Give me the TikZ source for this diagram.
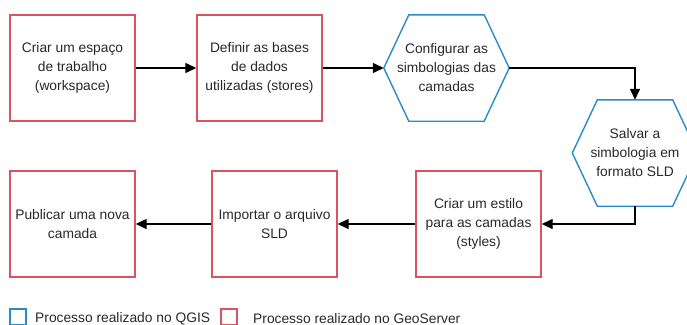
\documentclass[tikz,border=0pt]{standalone}
\usepackage{fontspec}
\setmainfont{Liberation Sans}
\usetikzlibrary{arrows.meta}
\definecolor{gsred}{RGB}{217,83,97}
\definecolor{qblue}{RGB}{41,140,201}
\definecolor{txt}{RGB}{40,40,40}
\begin{document}
\begin{tikzpicture}[x=1pt,y=-1pt,
  lbl/.style={font=\fontsize{13.8}{19}\selectfont, text=txt, align=center},
  gsbox/.style={lbl, draw=gsred, line width=1.4pt, minimum width=125pt, minimum height=106pt, inner sep=0pt},
  hexlbl/.style={lbl, minimum width=125pt, minimum height=106pt, inner sep=0pt},
  hexline/.style={draw=qblue, line width=1.4pt, line join=miter},
  conn/.style={line width=1.4pt, -{Triangle[length=11pt,width=10pt]}},
  legsq/.style={line width=1.4pt, minimum width=16pt, minimum height=16pt, inner sep=0pt}
]
\useasboundingbox (0,0) rectangle (687,324);
\node[gsbox] (b1) at (72.5,68) {Criar um espaço\\de trabalho\\(workspace)};
\node[gsbox] (b2) at (259.5,68) {Definir as bases\\de dados\\utilizadas (stores)};
\node[hexlbl] (h1) at (446.5,68) {Configurar as\\simbologias das\\camadas};
\node[hexlbl] (h2) at (635,153) {Salvar a\\simbologia em\\formato SLD};
\node[gsbox] (bc) at (478.5,224) {Criar um estilo\\para as camadas\\(styles)};
\node[gsbox] (bb) at (274.5,224) {Importar o arquivo\\SLD};
\node[gsbox] (ba) at (72.5,224) {Publicar uma nova\\camada};
\foreach \h in {h1,h2}{
  \draw[hexline] (\h.west) -- ([xshift=25pt]\h.north west) -- ([xshift=-25pt]\h.north east)
    -- (\h.east) -- ([xshift=-25pt]\h.south east) -- ([xshift=25pt]\h.south west) -- cycle;
}
\draw[conn] (b1) -- (b2);
\draw[conn] (b2.east) -- (h1.west);
\draw[conn] (h1.east) -| (h2.north);
\draw[conn] (h2.south) |- (bc.east);
\draw[conn] (bc) -- (bb);
\draw[conn] (bb) -- (ba);
\node[legsq, draw=qblue] (lq) at (18,317) {};
\node[lbl, anchor=west, inner sep=0pt] (lqt) at (35,319) {Processo realizado no QGIS};
\node[legsq, draw=gsred] (lg) at (229,317) {};
\node[lbl, anchor=west, inner sep=0pt] (lgt) at (253,319) {Processo realizado no GeoServer};
\end{tikzpicture}
\end{document}
